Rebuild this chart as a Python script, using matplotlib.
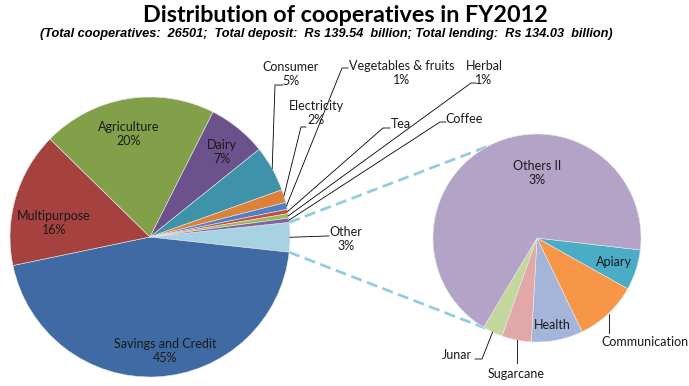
import numpy as np
import matplotlib
matplotlib.use('Agg')
import matplotlib.pyplot as plt

# main pie, clockwise starting from "Other"
names = ['Other', 'Savings and Credit', 'Multipurpose', 'Agriculture', 'Dairy',
         'Consumer', 'Electricity', 'Vegetables & fruits', 'Tea', 'Herbal', 'Coffee']
values = [3.4, 45.0, 15.6, 20.1, 6.8, 5.3, 1.5, 0.8, 0.5, 0.5, 0.5]
pct_labels = ['3%', '45%', '16%', '20%', '7%', '5%', '2%', '1%', '', '1%', '']
colors = ['#A7D2E2', '#3F6AA3', '#A5423F', '#82A04A', '#6B528D', '#3E93AA',
          '#DD803A', '#4F7FC5', '#C0504D', '#9BBB59', '#8064A2']

# second pie (breakdown of "Other"), clockwise
sub_names = ['Apiary', 'Communication', 'Health', 'Sugarcane', 'Junar', 'Others II']
sub_values = [6.3, 9.75, 8.0, 4.6, 3.1, 68.3]
sub_pct = ['', '', '', '', '', '3%']
sub_colors = ['#4BACC6', '#F79646', '#A5B5D9', '#E2A8A7', '#C3D69B', '#B3A3C7']

W, H = 689, 386
fig = plt.figure(figsize=(W / 100, H / 100), dpi=100)
ax = fig.add_axes([0, 0, 1, 1])
plt.rcParams['font.family'] = ['Lato', 'DejaVu Sans']

def Y(y):
    return H - y

c1, r1 = (150, Y(237)), 140
c2, r2 = (537, Y(238)), 104

w1, _ = ax.pie(values, colors=colors, startangle=6, counterclock=False,
               center=c1, radius=r1, frame=True,
               wedgeprops=dict(edgecolor='#e8e8e8', linewidth=0.4))
w2, _ = ax.pie(sub_values, colors=sub_colors, startangle=-6.6, counterclock=False,
               center=c2, radius=r2, frame=True,
               wedgeprops=dict(edgecolor='#e8e8e8', linewidth=0.4))

def edge(c, r, ang):
    a = np.deg2rad(ang)
    return c[0] + r * np.cos(a), c[1] + r * np.sin(a)

def mid(w):
    return (w.theta1 + w.theta2) / 2

fs = 9
txt = '#1a1a1a'

# inside labels
inside = {'Savings and Credit': (165, 351), 'Multipurpose': (54, 223),
          'Agriculture': (129, 134), 'Dairy': (222, 152)}
for i, n in enumerate(names):
    if n in inside:
        x, y = inside[n]
        ax.text(x, Y(y), n + '\n' + pct_labels[i], ha='center', va='center',
                fontsize=fs, color=txt, linespacing=1.25)

# outside labels with leader lines: (elbow, elbow end, label centre)
outside = {
    'Consumer': ((275, 85), (283, 85), (291, 74)),
    'Electricity': ((301, 127), (306, 127), (316, 113)),
    'Vegetables & fruits': ((342, 68), (348, 68), (402, 73)),
    'Herbal': ((471, 83), (476, 83), (484, 73)),
    'Tea': ((383, 128), (390, 128), (401, 124)),
    'Coffee': ((440, 122), (446, 122), (464, 119)),
    'Other': ((327, 236), (329, 236), (346, 239)),
}
for i, n in enumerate(names):
    if n in outside:
        (ex, ey), (hx, hy), (tx, ty) = outside[n]
        px, py = edge(c1, r1, mid(w1[i]))
        ax.plot([px, ex, hx], [py, Y(ey), Y(hy)], color='black', lw=0.6)
        s = n if pct_labels[i] == '' else n + '\n' + pct_labels[i]
        ax.text(tx, Y(ty), s, ha='center', va='center', fontsize=fs,
                color=txt, linespacing=1.25)

# second pie labels
sub_inside = {'Others II': (537, 173), 'Apiary': (614, 262), 'Health': (552, 325)}
sub_out = {
    'Communication': [(609, 333)],
    'Sugarcane': [(517, 363)],
    'Junar': [(482, 359), (475, 359)],
}
sub_text = {'Communication': (645, 342), 'Sugarcane': (516, 374), 'Junar': (457, 355)}
for i, n in enumerate(sub_names):
    s = n if sub_pct[i] == '' else n + '\n' + sub_pct[i]
    if n in sub_inside:
        x, y = sub_inside[n]
        ax.text(x, Y(y), s, ha='center', va='center', fontsize=fs, color=txt,
                linespacing=1.25)
    else:
        px, py = edge(c2, r2, mid(w2[i]))
        xs = [px] + [p[0] for p in sub_out[n]]
        ys = [py] + [Y(p[1]) for p in sub_out[n]]
        if n != 'Junar':
            xs = [xs[1], xs[1]]
            ys = [py, ys[1]]
        ax.plot(xs, ys, color='black', lw=0.6)
        x, y = sub_text[n]
        ax.text(x, Y(y), s, ha='center', va='center', fontsize=fs, color=txt)

# dashed connectors between the "Other" wedge and the second pie
other = w1[0]
for a1, a2 in [(other.theta2, 118), (other.theta1, -120)]:
    p = edge(c1, r1, a1)
    q = edge(c2, r2, a2)
    ax.plot([p[0], q[0]], [p[1], q[1]], color='#93CDDD', lw=2.0,
            linestyle=(0, (4, 2)), solid_capstyle='butt', zorder=0)

ax.text(345, Y(15), 'Distribution of cooperatives in FY2012', ha='center',
        va='center', fontsize=16.8, fontweight='bold', color='black')
ax.text(326, Y(34), '(Total cooperatives:  26501;  Total deposit:  Rs 139.54  billion; '
        'Total lending:  Rs 134.03  billion)', ha='center', va='center',
        fontsize=9.2, fontweight='bold', fontstyle='italic', color='black',
        family=['Liberation Sans Narrow', 'Liberation Sans'])

ax.set_xlim(0, W)
ax.set_ylim(0, H)
ax.set_aspect('equal')
ax.axis('off')
fig.savefig('out.png', dpi=100)
